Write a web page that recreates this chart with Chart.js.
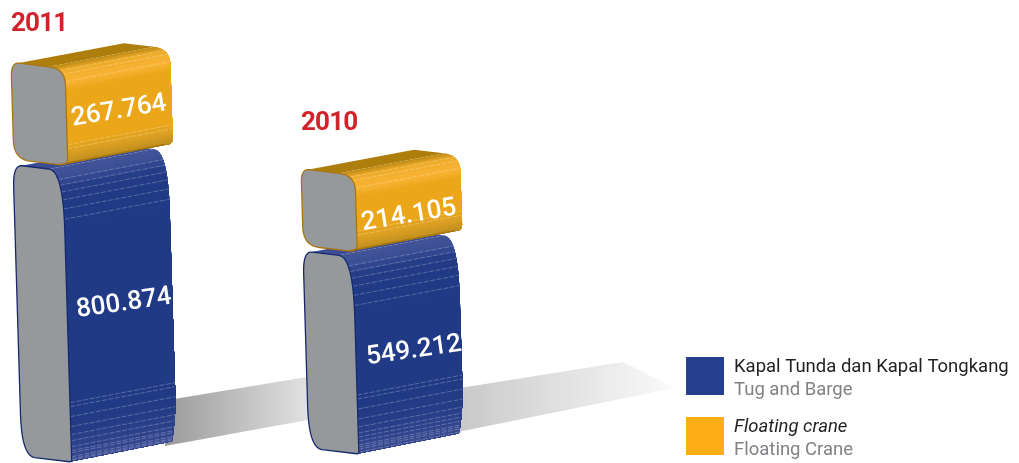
<!DOCTYPE html>
<html>
<head>
<meta charset="utf-8">
<style>
  html, body { margin: 0; background: #fff; }
  canvas { display: block; }
</style>
<script src="https://cdn.jsdelivr.net/npm/chart.js@4"></script>
</head>
<body>
<canvas id="fleetChart" width="1019" height="463"></canvas>
<script>
const years = ['2011', '2010']
const tugAndBarge = [800874, 549212]
const floatingCrane = [267764, 214105]
const seriesNames = ['Kapal Tunda dan Kapal Tongkang', 'Floating crane']
const seriesNamesEn = ['Tug and Barge', 'Floating Crane']

// block projection: front face leans and tilts, side face is the front swept back
const LEAN = 0.03
const TILT = 0.12
const DEPTH_X = 105
const DEPTH_Y = -20
const RISE_PER_PX = 8 / 290

const tugBlock = {
  corners: { tl: [9, 22], tr: [14, 60], br: [2, 3], bl: [13, 42] },
  gapTop: 3,
  gapBottom: 0,
  face: '#96999c',
  line: '#16296e',
  top: '#3c4d94',
  topStops: [[0, '#46569a'], [14, '#3e5096'], [26, '#273e88'], [40, '#213a85']],
  base: '#213a85',
  bottomStops: [[50, '#213a85'], [30, '#263d87'], [14, '#2f438c'], [0, '#3b4c92']],
  stripesTop: [16, 23, 30, 37, 44, 52],
  stripesBottom: [60, 56, 46, 36, 28, 22, 17, 13, 10, 7, 5, 3],
  stripe: 'rgba(255,255,255,0.3)',
  pinch: 5,
  labelDx: 86,
  labelDy: -8,
  labelAngle: -8.2
}

const craneBlock = {
  corners: { tl: [8, 14], tr: [16, 16], br: [9, 8], bl: [16, 19] },
  gapTop: 1,
  gapBottom: 4,
  face: '#96999c',
  line: '#a87610',
  top: '#ae7e0c',
  topStops: [[0, '#b4850f'], [6, '#c9921a'], [14, '#f0ad2c'], [26, '#f8b335'], [34, '#eba61a']],
  base: '#eba61a',
  bottomStops: [[28, '#eba61a'], [18, '#dca024'], [8, '#c2901f'], [0, '#9a7013']],
  stripesTop: [12, 17, 24],
  stripesBottom: [26, 22],
  stripe: 'rgba(255,235,190,0.4)',
  pinch: 0,
  labelDx: 81,
  labelDy: 0,
  labelAngle: -9.5
}

function boxFor(bar, style, chart) {
  const rise = (bar.x - chart.chartArea.left) * RISE_PER_PX
  const top = bar.y - rise + style.gapTop
  const bottom = bar.base - rise + style.gapBottom
  return { left: bar.x - bar.width / 2, top, w: bar.width, h: bottom - top - TILT * bar.width }
}

function project(box, u, v) {
  return { x: box.left + u + LEAN * v, y: box.top + TILT * u + v }
}

function cornerPoints(box, a, c, b) {
  const pts = []
  for (let i = 0; i <= 10; i++) {
    const t = i / 10
    const m = (1 - t) * (1 - t)
    const n = 2 * t * (1 - t)
    const o = t * t
    pts.push(project(box, m * a[0] + n * c[0] + o * b[0], m * a[1] + n * c[1] + o * b[1]))
  }
  return pts
}

function traceLoop(ctx, pts) {
  ctx.beginPath()
  pts.forEach((p, i) => (i ? ctx.lineTo(p.x, p.y) : ctx.moveTo(p.x, p.y)))
  ctx.closePath()
}

function mixHex(a, b, t) {
  const ca = parseInt(a.slice(1), 16)
  const cb = parseInt(b.slice(1), 16)
  const ch = s => Math.round(((ca >> s) & 255) * (1 - t) + ((cb >> s) & 255) * t)
  return `rgb(${ch(16)},${ch(8)},${ch(0)})`
}

function stopColor(stops, d) {
  for (let i = 1; i < stops.length; i++) {
    const [d0, c0] = stops[i - 1]
    const [d1, c1] = stops[i]
    if ((d - d0) * (d - d1) <= 0) return mixHex(c0, c1, (d - d0) / (d1 - d0 || 1))
  }
  return null
}

function drawBlock(ctx, bar, style, chart) {
  const box = boxFor(bar, style, chart)
  const { w, h } = box
  const { tl, tr, br, bl } = style.corners

  const tlPts = cornerPoints(box, [0, tl[1]], [0, 0], [tl[0], 0])
  const trPts = cornerPoints(box, [w - tr[0], 0], [w, 0], [w, tr[1]])
  const brPts = cornerPoints(box, [w, h - br[1]], [w, h], [w - br[0], h])
  const blPts = cornerPoints(box, [bl[0], h], [0, h], [0, h - bl[1]])

  // the edge that gets swept back, sampled so each slice can take its own colour
  const edge = trPts.slice()
  for (let v = tr[1] + 2; v < h - br[1]; v += 2) edge.push(project(box, w, v))
  edge.push(...brPts)
  let run = 0
  edge.forEach((p, i) => {
    if (i) run += Math.hypot(p.x - edge[i - 1].x, p.y - edge[i - 1].y)
    p.d = run
  })
  const total = run
  const back = p => {
    const fromEnd = total - p.d
    const pinch = fromEnd < 50 ? style.pinch * Math.pow(1 - fromEnd / 50, 2) : 0
    return { x: p.x + DEPTH_X - pinch, y: p.y + DEPTH_Y }
  }

  // top face
  ctx.fillStyle = style.top
  traceLoop(ctx, [tlPts[8], back(tlPts[10]), back(trPts[0]), trPts[0]])
  ctx.fill()

  // side face: each slice runs down to the end of the edge and the next one
  // paints over it, which leaves no seams between slices
  for (let i = 1; i < edge.length; i++) {
    const b = edge[i]
    const color = stopColor(style.bottomStops, total - b.d) || stopColor(style.topStops, b.d) || style.base
    if (i > 1 && color === edge[i - 1].color) continue
    b.color = color
    const rest = edge.slice(i - 1)
    ctx.fillStyle = color
    traceLoop(ctx, [...rest, ...rest.map(back).reverse()])
    ctx.fill()
  }

  // thin dashed bands on the rounded parts of the side
  const nearest = d => edge.reduce((best, p) => (Math.abs(p.d - d) < Math.abs(best.d - d) ? p : best), edge[0])
  ctx.save()
  ctx.strokeStyle = style.stripe
  ctx.lineWidth = 0.8
  ctx.setLineDash([5, 1.5])
  const drawStripe = p => {
    const q = back(p)
    ctx.beginPath()
    ctx.moveTo(p.x, p.y)
    ctx.lineTo(q.x, q.y)
    ctx.stroke()
  }
  style.stripesTop.forEach(d => drawStripe(nearest(d)))
  style.stripesBottom.forEach(d => drawStripe(nearest(total - d)))
  ctx.restore()

  // grey front face
  const outline = [...tlPts, ...trPts, ...brPts, ...blPts]
  ctx.fillStyle = style.face
  ctx.strokeStyle = style.line
  ctx.lineWidth = 1.3
  traceLoop(ctx, outline)
  ctx.fill()
  ctx.stroke()

  // bottom edge of the side
  if (style.pinch === 0) {
    const tip = edge[edge.length - 1]
    const end = back(tip)
    ctx.beginPath()
    ctx.moveTo(tip.x, tip.y)
    ctx.lineTo(end.x, end.y)
    ctx.stroke()
  }
}

function drawValue(ctx, bar, style, value) {
  const text = value.toLocaleString('id-ID')
  ctx.save()
  ctx.translate(bar.x + style.labelDx, (bar.y + bar.base) / 2 + style.labelDy)
  ctx.rotate(style.labelAngle * Math.PI / 180)
  ctx.font = '500 26px Roboto'
  ctx.fillStyle = '#fff'
  ctx.textAlign = 'center'
  ctx.textBaseline = 'middle'
  ctx.fillText(text, 0, 0)
  ctx.restore()
}

function drawShadow(ctx, pts, from, to) {
  const grad = ctx.createLinearGradient(pts[0].x, 0, pts[pts.length - 2].x, 0)
  grad.addColorStop(0, from)
  grad.addColorStop(1, to)
  ctx.fillStyle = grad
  traceLoop(ctx, pts)
  ctx.fill()
}

// draws the blocks from the bar elements, bottom of the stack first
const blockPlugin = {
  id: 'blocks',
  beforeDatasetsDraw(chart) {
    const ctx = chart.ctx
    const bars = chart.getDatasetMeta(0).data
    const caps = chart.getDatasetMeta(1).data

    ctx.save()
    const a = bars[0]
    const b = bars[1]
    drawShadow(ctx, [
      { x: a.x + 130, y: a.base - 62 },
      { x: b.x - 15, y: b.base - 86 },
      { x: b.x - 15, y: b.base - 43 },
      { x: a.x + 127, y: a.base - 16 }
    ], '#9c9c9c', '#e4e4e4')
    drawShadow(ctx, [
      { x: b.x + 132, y: b.base - 74 },
      { x: b.x + 295, y: b.base - 100 },
      { x: b.x + 347, y: b.base - 74 },
      { x: b.x + 130, y: b.base - 30 }
    ], '#c9c9c9', '#fbfbfb')

    const blocks = [[bars, tugBlock, tugAndBarge], [caps, craneBlock, floatingCrane]]
    blocks.forEach(([items, style]) => items.forEach(bar => drawBlock(ctx, bar, style, chart)))
    blocks.forEach(([items, style, values]) =>
      items.forEach((bar, i) => drawValue(ctx, bar, style, values[i])))

    // year above each stack
    ctx.font = '700 26px Roboto'
    ctx.letterSpacing = '-0.8px'
    ctx.fillStyle = '#d2232a'
    ctx.textAlign = 'left'
    ctx.textBaseline = 'alphabetic'
    caps.forEach((bar, i) => {
      ctx.fillText(years[i], bar.x - 27, i ? 130 : 31)
    })
    ctx.letterSpacing = '0px'
    ctx.restore()
    return false
  },
  afterDraw(chart) {
    const ctx = chart.ctx
    const swatches = ['#24408e', '#fdae17']
    const rows = [357, 417]
    ctx.save()
    ctx.textAlign = 'left'
    ctx.textBaseline = 'alphabetic'
    rows.forEach((y, i) => {
      ctx.fillStyle = swatches[i]
      ctx.fillRect(686, y, 38, 38)
      ctx.font = (i ? 'italic ' : '') + '18.5px Roboto'
      ctx.fillStyle = '#231f20'
      ctx.fillText(seriesNames[i], 734, y + 15)
      ctx.font = '18.5px Roboto'
      ctx.fillStyle = '#808285'
      ctx.fillText(seriesNamesEn[i], 734, y + 38)
    })
    ctx.restore()
  }
}

new Chart(document.getElementById('fleetChart'), {
  type: 'bar',
  data: {
    labels: years,
    datasets: [
      { label: seriesNames[0], data: tugAndBarge, backgroundColor: '#24408e', barThickness: 50, clip: false },
      { label: seriesNames[1], data: floatingCrane, backgroundColor: '#fdae17', barThickness: 54, clip: false }
    ]
  },
  options: {
    responsive: false,
    animation: false,
    events: [],
    layout: { padding: { left: 38, right: 691, top: 0, bottom: 1 } },
    scales: {
      x: { stacked: true, display: false, offset: false },
      y: { stacked: true, display: false, min: 0, max: 1232000 }
    },
    plugins: {
      legend: { display: false },
      tooltip: { enabled: false }
    }
  },
  plugins: [blockPlugin]
})
</script>
</body>
</html>
